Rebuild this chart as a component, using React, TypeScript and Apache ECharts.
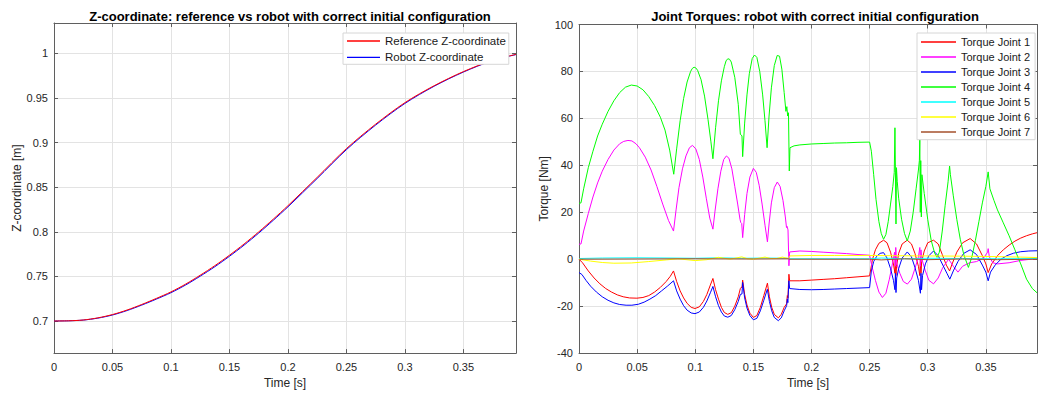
import React, { useEffect, useRef } from "react";
import * as echarts from "echarts";

const FONT = "Liberation Sans, Arial, Helvetica, sans-serif";

// ---- Left chart: Z-coordinate ----
const timeZ = [0, 0.0125, 0.025, 0.0375, 0.05, 0.0625, 0.075, 0.0875, 0.1, 0.1125, 0.125, 0.1375, 0.15, 0.1625, 0.175, 0.1875, 0.2, 0.225, 0.25, 0.275, 0.3, 0.325, 0.35, 0.375, 0.395];
const refZ = [0.7, 0.7002, 0.7011, 0.7035, 0.7072, 0.7123, 0.7185, 0.7253, 0.7326, 0.7413, 0.7513, 0.762, 0.7737, 0.7863, 0.7998, 0.8142, 0.8292, 0.861, 0.8932, 0.9206, 0.9447, 0.9637, 0.9795, 0.9922, 0.9988];
const robotZ = [0.7, 0.7002, 0.701, 0.7032, 0.7067, 0.7117, 0.7178, 0.7245, 0.7317, 0.7403, 0.7502, 0.7608, 0.7725, 0.785, 0.7985, 0.8129, 0.8279, 0.8597, 0.892, 0.9196, 0.9438, 0.9631, 0.979, 0.9919, 0.9986];

// ---- Right chart: joint torques [time s, torque Nm] ----
const torque1 = [
  [0, 0], [0.003, -1.5], [0.008, -5], [0.013, -8], [0.018, -10.5], [0.023, -12.5], [0.028, -14], [0.033, -15.2], [0.038, -16], [0.0435, -16.5], [0.0498, -16.6], [0.055, -16.3], [0.06, -15.5], [0.065, -14], [0.07, -12], [0.075, -9.5], [0.0785, -7.3], [0.0813, -5],
  [0.084, -9.5], [0.087, -13.5], [0.09, -16.5], [0.093, -18.8], [0.0965, -20.5], [0.0998, -21], [0.1035, -20.3], [0.107, -18], [0.11, -15], [0.113, -11], [0.1152, -8.2],
  [0.1175, -13], [0.12, -17], [0.1225, -20.5], [0.125, -22.7], [0.128, -23.5], [0.131, -22.8], [0.134, -20], [0.137, -16], [0.1388, -12.5], [0.1395, -12], [0.1402, -12], [0.1408, -8.9],
  [0.1425, -15], [0.1445, -19.5], [0.147, -23], [0.15, -24.8], [0.153, -24], [0.156, -20.5], [0.159, -15.5], [0.1621, -10.2],
  [0.1638, -16], [0.1658, -20.5], [0.168, -23.5], [0.1715, -25], [0.174, -23.5], [0.1765, -20.5], [0.1786, -19], [0.1792, -15.5], [0.1797, -16.5], [0.1806, -6.4], [0.1812, -9.2],
  [0.19, -9.2], [0.2, -8.9], [0.21, -8.6], [0.22, -8.3], [0.23, -7.9], [0.24, -7.5], [0.25, -7.1],
  [0.2525, 0], [0.255, 4], [0.258, 6.8], [0.262, 8.1], [0.265, 7], [0.268, 3], [0.2705, -2], [0.2718, -6], [0.2722, 2], [0.2726, -7], [0.2732, -3], [0.275, 2.5], [0.278, 6.5], [0.2824, 8.1], [0.286, 6.5], [0.289, 2.5], [0.292, -3], [0.2932, -7], [0.2937, 0], [0.2942, -6], [0.2948, -1], [0.297, 3.5], [0.3, 7], [0.305, 8.1], [0.309, 6.5], [0.3125, 2], [0.316, -2.5], [0.3188, -5], [0.321, -2], [0.325, 3], [0.33, 7], [0.3365, 8.8], [0.342, 6.5], [0.347, 1.5], [0.35, -2], [0.352, -5.7], [0.355, -2], [0.36, 1.5], [0.365, 4], [0.37, 6], [0.375, 7.7], [0.38, 9], [0.385, 10], [0.39, 10.8], [0.394, 11.3],
];
const torque2 = [
  [0, 6.4], [0.0017, 6.5], [0.004, 12], [0.008, 19.5], [0.012, 26.5], [0.016, 32.5], [0.02, 37.5], [0.025, 42.5], [0.03, 46.5], [0.035, 49.2], [0.0385, 50.2], [0.0421, 50.6], [0.0455, 50.4], [0.049, 49.2], [0.052, 47.5], [0.057, 43.5], [0.062, 38], [0.067, 31], [0.072, 23.5], [0.077, 16.5], [0.0813, 12],
  [0.0835, 21], [0.086, 30.5], [0.089, 38.5], [0.092, 44], [0.095, 47.5], [0.0976, 48.5], [0.1005, 47], [0.1035, 42.5], [0.1065, 35], [0.1095, 26], [0.1125, 17.5], [0.1152, 12.8],
  [0.117, 20.5], [0.1195, 30], [0.122, 37.5], [0.1245, 42.5], [0.1268, 44], [0.129, 43], [0.1315, 38.5], [0.134, 31], [0.1365, 23.5], [0.1385, 17], [0.1392, 15.6], [0.14, 15.2], [0.1408, 9.2],
  [0.1425, 19], [0.1445, 28], [0.147, 35], [0.15, 38.7], [0.1525, 37], [0.155, 31.5], [0.1575, 23.5], [0.16, 14.5], [0.1621, 7.4],
  [0.1635, 15], [0.1655, 24], [0.168, 30.5], [0.1706, 32.9], [0.173, 31], [0.1755, 25], [0.1775, 18], [0.1785, 13.5], [0.179, 14], [0.1798, 12.5], [0.1806, -2.8], [0.1812, 3.1],
  [0.19, 3.5], [0.2, 3.3], [0.21, 3], [0.22, 2.7], [0.23, 2.4], [0.24, 2], [0.25, 1.7],
  [0.252, -3], [0.255, -9], [0.258, -14], [0.261, -16.3], [0.264, -14.5], [0.267, -8.5], [0.27, -1], [0.2715, 3], [0.272, -3], [0.2725, 5], [0.273, 1], [0.2735, -2], [0.276, -6], [0.279, -9.5], [0.2825, -10.6], [0.286, -8.5], [0.289, -4], [0.292, 1], [0.2932, 5], [0.2937, -3], [0.2942, 4], [0.295, 0], [0.298, -5], [0.301, -9], [0.305, -10.5], [0.309, -8], [0.313, -3.5], [0.318, 0], [0.322, -3], [0.326, -5.5], [0.33, -3], [0.336, -1.5], [0.342, -1], [0.348, 0.5], [0.3515, 3], [0.352, 4.5], [0.353, 1], [0.356, -1.5], [0.36, -2], [0.37, -1.5], [0.38, -0.5], [0.394, 0.3],
];
const torque3 = [
  [0, -5.7], [0.0025, -6.5], [0.006, -9], [0.01, -11.5], [0.015, -14], [0.02, -16], [0.025, -17.5], [0.03, -18.6], [0.035, -19.3], [0.0405, -19.6], [0.0455, -19.6], [0.051, -19.2], [0.056, -18.3], [0.061, -17], [0.066, -15.5], [0.071, -13.5], [0.076, -11.5], [0.0813, -9.2],
  [0.084, -13.5], [0.087, -17], [0.09, -19.8], [0.093, -21.7], [0.0965, -22.9], [0.0998, -23.2], [0.1035, -22.5], [0.107, -20.5], [0.11, -17.8], [0.113, -14.3], [0.1152, -11.6],
  [0.1175, -16], [0.12, -19.8], [0.1225, -22.5], [0.125, -24.2], [0.128, -24.7], [0.131, -24], [0.134, -21.5], [0.137, -18], [0.1388, -15], [0.1402, -14.8], [0.1408, -9.9],
  [0.1425, -16.5], [0.1445, -20.8], [0.147, -24], [0.15, -25.8], [0.153, -25.2], [0.156, -22], [0.159, -17.5], [0.162, -12.8],
  [0.1638, -18], [0.1658, -22], [0.168, -24.8], [0.1715, -26.2], [0.174, -25], [0.1765, -22], [0.1786, -19.8], [0.1792, -17], [0.1797, -18.5], [0.1806, -9.2], [0.1812, -12.5],
  [0.19, -12.9], [0.2, -13], [0.21, -12.9], [0.22, -12.7], [0.23, -12.5], [0.24, -12.3], [0.25, -12.1],
  [0.2515, -5], [0.2535, -1], [0.256, 1.2], [0.259, 2.5], [0.262, 2.8], [0.265, 0.5], [0.268, -4], [0.2705, -9], [0.2718, -13], [0.2722, -6], [0.2727, -14.2], [0.2733, -8], [0.275, -4], [0.278, 0.5], [0.2824, 3.1], [0.286, 1], [0.289, -3.5], [0.292, -9], [0.2937, -14.5], [0.2942, -6], [0.2947, -13], [0.2955, -7], [0.298, -2], [0.301, 1.5], [0.305, 3.5], [0.309, 1.5], [0.313, -2.5], [0.3165, -6], [0.319, -8.5], [0.322, -5], [0.326, -1], [0.331, 2.5], [0.3365, 4], [0.342, 2], [0.347, -2.5], [0.35, -5.5], [0.352, -9.2], [0.354, -5.5], [0.358, -2.5], [0.363, 0], [0.368, 1.5], [0.374, 2.6], [0.38, 3.2], [0.387, 3.5], [0.394, 3.6],
];
const torque4 = [
  [0, 23.8], [0.0017, 24], [0.004, 30], [0.008, 39], [0.012, 46], [0.016, 52.5], [0.02, 57.5], [0.025, 63], [0.03, 67.5], [0.035, 71], [0.04, 73.3], [0.045, 74.2], [0.05, 73.8], [0.055, 72.2], [0.06, 69.3], [0.065, 65.5], [0.07, 60.5], [0.074, 55], [0.078, 46.5], [0.0815, 36.2],
  [0.084, 47], [0.087, 59], [0.09, 68.5], [0.093, 75.5], [0.096, 80], [0.0975, 81.3], [0.099, 81.8], [0.1005, 81.5], [0.102, 80.5], [0.105, 76.5], [0.108, 69.5], [0.111, 59.5], [0.1135, 50], [0.1152, 42.8],
  [0.1175, 56], [0.12, 67.5], [0.1225, 76], [0.125, 82], [0.1265, 84.5], [0.128, 85.4], [0.1295, 85.2], [0.131, 84], [0.134, 77.5], [0.137, 66], [0.1388, 53.2], [0.1395, 53], [0.1402, 52.5], [0.1408, 43.7],
  [0.1425, 58], [0.1445, 70], [0.1465, 79], [0.149, 85.5], [0.151, 87], [0.153, 86], [0.1555, 80], [0.158, 70], [0.16, 59], [0.1618, 47.5],
  [0.1635, 61], [0.1655, 73], [0.168, 82.5], [0.1705, 86.8], [0.1725, 86.5], [0.1745, 81], [0.1765, 71], [0.178, 63], [0.1788, 65], [0.1795, 61], [0.1802, 62.4], [0.1809, 37.6], [0.1815, 47.5],
  [0.185, 48.3], [0.19, 48.7], [0.2, 49.1], [0.21, 49.3], [0.22, 49.5], [0.23, 49.6], [0.24, 49.8], [0.25, 49.9],
  [0.2515, 46], [0.2535, 36], [0.2555, 25.5], [0.258, 16], [0.26, 11], [0.262, 8.5], [0.264, 10.5], [0.266, 16], [0.268, 23.5], [0.27, 31], [0.2712, 37], [0.2718, 56], [0.2722, 38], [0.2727, 15], [0.2731, 39], [0.2738, 33], [0.275, 26], [0.2775, 17], [0.28, 11], [0.2824, 7.8], [0.285, 12], [0.2875, 20], [0.29, 30], [0.292, 38], [0.2928, 42], [0.2932, 51], [0.2936, 20], [0.294, 42], [0.2945, 18], [0.295, 36], [0.297, 28], [0.3, 17], [0.303, 8], [0.306, 2.5], [0.308, 0.8], [0.31, 3], [0.3125, 12], [0.315, 23], [0.3175, 33], [0.3188, 39.7], [0.3195, 36], [0.322, 27], [0.325, 17], [0.328, 8.5], [0.331, 2], [0.335, -3.5], [0.338, 1], [0.341, 8], [0.344, 16], [0.347, 24], [0.35, 31], [0.352, 37.2], [0.3535, 30], [0.357, 25], [0.36, 21], [0.365, 15.5], [0.37, 10], [0.375, 4], [0.38, -2], [0.385, -8.5], [0.39, -12.5], [0.394, -14.3],
];
const torque5 = [
  [0, 0.3], [0.02, 0.5], [0.05, 0.6], [0.08, 0.5], [0.1, 0.4], [0.12, 0.6], [0.14, 0.4], [0.16, 0.5], [0.18, 0.4], [0.181, 0.2], [0.25, 0.2], [0.26, 0.5], [0.28, 0.2], [0.3, 0.4], [0.33, 0.3], [0.36, 0.2], [0.394, 0.3],
];
const torque6 = [
  [0, 0], [0.01, -0.8], [0.02, -1.4], [0.03, -1.7], [0.045, -1.6], [0.06, -1], [0.075, -0.3], [0.085, 0.2], [0.1, -0.6], [0.11, -0.2], [0.115, 0.3], [0.12, 0.8], [0.13, 0], [0.14, 1], [0.145, 0.2], [0.15, 0], [0.16, 0.9], [0.165, 0.3], [0.17, 0.3], [0.175, 0.9], [0.18, 0.3], [0.1815, 1.4], [0.2, 1.6], [0.22, 1.6], [0.25, 1.6], [0.27, 1.5], [0.3, 1.4], [0.33, 1.3], [0.36, 1.1], [0.38, 0.9], [0.394, 0.7],
];
const torque7 = [
  [0, 0], [0.05, 0.1], [0.1, 0.2], [0.15, 0.1], [0.18, 0.2], [0.181, 0], [0.25, 0], [0.26, -0.3], [0.28, 0.2], [0.3, -0.2], [0.33, 0.1], [0.36, -0.2], [0.394, 0],
];

const zNames = ["Reference Z-coordinate", "Robot Z-coordinate"];
const zColors = ["#ff0000", "#0000ff"];
const torqueNames = ["Torque Joint 1", "Torque Joint 2", "Torque Joint 3", "Torque Joint 4", "Torque Joint 5", "Torque Joint 6", "Torque Joint 7"];
const torqueColors = ["#ff0000", "#ff00ff", "#0000ff", "#00ff00", "#00ffff", "#ffff00", "#a5502d"];
const torqueData = [torque1, torque2, torque3, torque4, torque5, torque6, torque7];

const AXIS_COLOR = "#5f5f5f";
const GRID_COLOR = "#e3e3e3";
const TEXT_COLOR = "#262626";

const stepFmt = (step: number) => (v: number) => {
  const k = v / step;
  return Math.abs(k - Math.round(k)) < 1e-6 ? String(parseFloat(v.toFixed(3))) : "";
};

function mainX(gridIndex: number, max: number) {
  return {
    type: "value", gridIndex, position: "bottom", min: 0, max, interval: 0.05,
    name: "Time [s]", nameLocation: "middle", nameGap: 23,
    nameTextStyle: { fontFamily: FONT, fontSize: 12, color: TEXT_COLOR },
    axisLine: { show: true, onZero: false, lineStyle: { color: AXIS_COLOR, width: 1 } },
    axisTick: { show: true, inside: true, length: 4, lineStyle: { color: AXIS_COLOR } },
    axisLabel: { show: true, margin: 8, fontFamily: FONT, fontSize: 11, color: TEXT_COLOR, formatter: stepFmt(0.05) },
    splitLine: { show: true, lineStyle: { color: GRID_COLOR, width: 1 } },
  };
}
function topX(gridIndex: number, max: number) {
  return {
    type: "value", gridIndex, position: "top", min: 0, max, interval: 0.05,
    axisLine: { show: true, onZero: false, lineStyle: { color: AXIS_COLOR, width: 1 } },
    axisTick: { show: true, inside: true, length: 4, lineStyle: { color: AXIS_COLOR } },
    axisLabel: { show: false },
    splitLine: { show: false },
  };
}
function leftY(gridIndex: number, extra: any) {
  return {
    type: "value", gridIndex, position: "left",
    nameLocation: "middle",
    nameTextStyle: { fontFamily: FONT, fontSize: 12, color: TEXT_COLOR },
    axisLine: { show: true, onZero: false, lineStyle: { color: AXIS_COLOR, width: 1 } },
    axisTick: { show: true, inside: true, length: 4, lineStyle: { color: AXIS_COLOR } },
    splitLine: { show: true, lineStyle: { color: GRID_COLOR, width: 1 } },
    ...extra,
  };
}
function rightY(gridIndex: number, extra: any) {
  return {
    type: "value", gridIndex, position: "right",
    axisLine: { show: true, onZero: false, lineStyle: { color: AXIS_COLOR, width: 1 } },
    axisTick: { show: true, inside: true, length: 4, lineStyle: { color: AXIS_COLOR } },
    axisLabel: { show: false },
    splitLine: { show: false },
    ...extra,
  };
}

export default function App() {
  const ref = useRef<HTMLDivElement>(null);
  useEffect(() => {
    if (!ref.current) return;
    const chart = echarts.init(ref.current, null, { renderer: "svg" });
    const zMin = 0.664;
    const zMax = 1.034;
    const option: any = {
      animation: false,
      backgroundColor: "#ffffff",
      title: [
        { text: "Z-coordinate: reference vs robot with correct initial configuration", left: 285, top: 5, textAlign: "center",
          textStyle: { fontFamily: FONT, fontSize: 13, fontWeight: "bold", color: "#000" } },
        { text: "Joint Torques: robot with correct initial configuration", left: 810, top: 5, textAlign: "center",
          textStyle: { fontFamily: FONT, fontSize: 13, fontWeight: "bold", color: "#000" } },
      ],
      grid: [
        { left: 54, top: 23, width: 462, height: 332, show: false },
        { left: 579, top: 24.5, width: 461, height: 330, show: false },
      ],
      legend: [
        { data: zNames, orient: "vertical", left: 343, top: 33, padding: [2, 3, 1, 4], itemGap: 4.3,
          icon: "rect", itemWidth: 33, itemHeight: 1.3, backgroundColor: "#fff", borderColor: "#d6d6d6", borderWidth: 1, borderRadius: 0,
          textStyle: { fontFamily: FONT, fontSize: 11.5, lineHeight: 12, color: "#1a1a1a" } },
        { data: torqueNames, orient: "vertical", left: 917, top: 33, padding: [3.5, 5, 2.2, 4], itemGap: 4,
          icon: "rect", itemWidth: 35, itemHeight: 1.3, backgroundColor: "#fff", borderColor: "#d6d6d6", borderWidth: 1, borderRadius: 0,
          textStyle: { fontFamily: FONT, fontSize: 11, lineHeight: 11, color: "#1a1a1a" } },
      ],
      xAxis: [mainX(0, 0.395), topX(0, 0.395), mainX(1, 0.394), topX(1, 0.394)],
      yAxis: [
        leftY(0, { min: zMin, max: zMax, splitNumber: 7, name: "Z-coordinate [m]", nameGap: 31,
          axisLabel: { margin: 6, fontFamily: FONT, fontSize: 11, color: TEXT_COLOR, formatter: stepFmt(0.05) } }),
        rightY(0, { min: zMin, max: zMax, splitNumber: 7 }),
        leftY(1, { min: -40, max: 100, interval: 20, name: "Torque [Nm]", nameGap: 29,
          axisLabel: { margin: 6, fontFamily: FONT, fontSize: 11, color: TEXT_COLOR } }),
        rightY(1, { min: -40, max: 100, interval: 20 }),
      ],
      series: [
        ...[robotZ, refZ].map((arr, i) => {
          const idx = i === 0 ? 1 : 0;
          return {
            name: zNames[idx], type: "line", xAxisIndex: 0, yAxisIndex: 0,
            data: timeZ.map((t, j) => [t, arr[j]]),
            smooth: 0.3, symbol: "none", showSymbol: false,
            lineStyle: { color: zColors[idx], width: 1 }, itemStyle: { color: zColors[idx] },
            z: idx === 0 ? 3 : 2,
          };
        }),
        ...torqueData.map((d, i) => ({
          name: torqueNames[i], type: "line", xAxisIndex: 2, yAxisIndex: 2,
          data: d, symbol: "none", showSymbol: false,
          lineStyle: { color: torqueColors[i], width: 1 }, itemStyle: { color: torqueColors[i] },
        })),
      ],
    };
    chart.setOption(option);
    return () => chart.dispose();
  }, []);
  return (
    <div
      ref={ref}
      style={{ position: "absolute", left: 0, top: 0, width: 1040, height: 394, background: "#fff" }}
    />
  );
}
